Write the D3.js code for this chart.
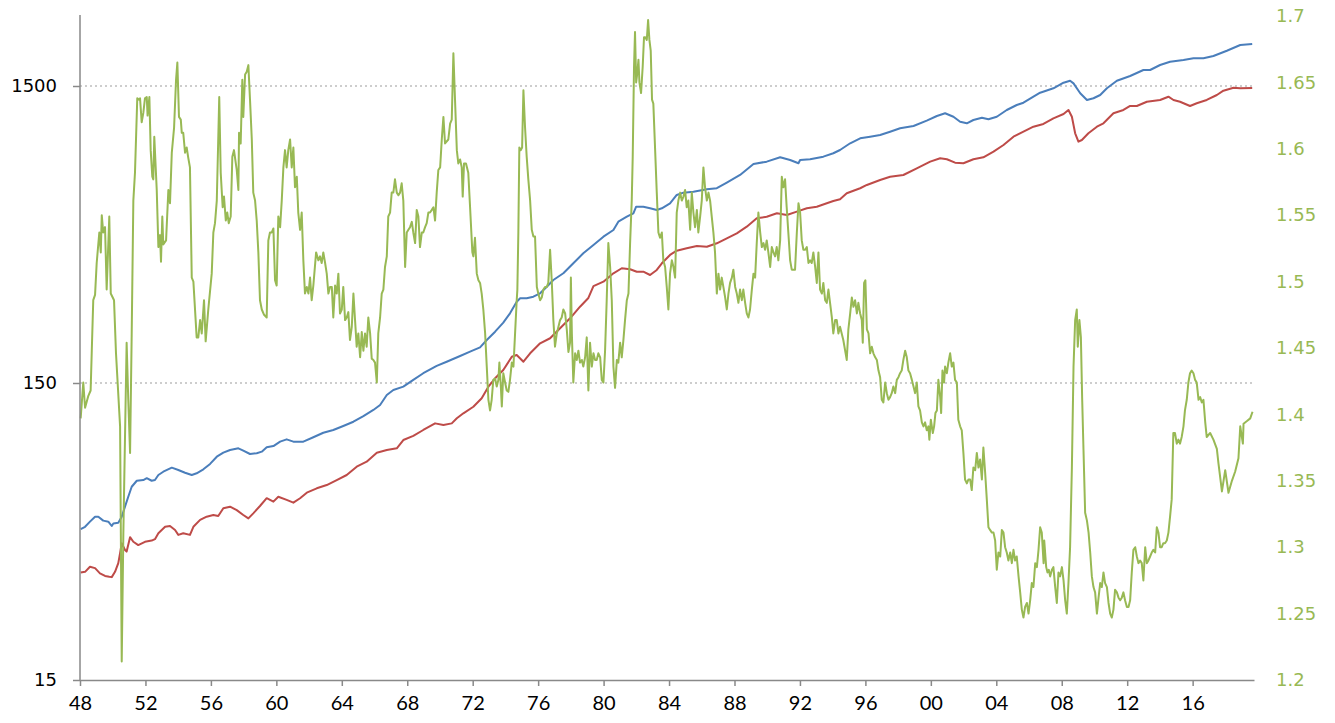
<!DOCTYPE html>
<html>
<head>
<meta charset="utf-8">
<script src="https://cdn.jsdelivr.net/npm/d3@7"></script>
<style>
  html, body { margin: 0; padding: 0; background: #ffffff; }
  svg { display: block; }
</style>
</head>
<body>
<svg id="chart" width="1335" height="723"></svg>
<script>
// ---------------- DATA ----------------
const xTickYears = [1948,1952,1956,1960,1964,1968,1972,1976,1980,1984,1988,1992,1996,2000,2004,2008,2012,2016];
const leftTicks = [15, 150, 1500];
const rightTicks = [1.2,1.25,1.3,1.35,1.4,1.45,1.5,1.55,1.6,1.65,1.7];

// blue series (left, log axis): [year, value]
const blueSeries = [
[1948.04,48.3],[1948.31,49.2],[1948.61,51.2],[1948.92,53.2],[1949.12,53.2],[1949.42,51.6],[1949.73,51.2],[1949.94,49.5],
[1950.04,50.5],[1950.34,50.8],[1950.55,53.2],[1950.75,57.5],[1950.95,62.1],[1951.16,67.1],[1951.47,70.3],[1951.87,70.7],
[1952.08,71.7],[1952.38,70.3],[1952.58,70.7],[1952.79,73.5],[1953.09,75.4],[1953.61,77.8],[1954.01,76.4],[1954.42,74.8],
[1954.83,73.5],[1955.13,74.5],[1955.54,76.8],[1955.95,80.1],[1956.36,84.7],[1956.76,87.4],[1957.17,89.2],[1957.68,90.4],
[1957.98,88.8],[1958.39,86.5],[1958.80,87.0],[1959.11,88.1],[1959.41,91.1],[1959.82,92.0],[1960.23,95.2],[1960.63,96.9],
[1961.04,95.2],[1961.65,95.2],[1962.26,98.5],[1962.87,102.0],[1963.48,104.2],[1964.09,107.5],[1964.71,111.1],[1965.32,116.1],
[1965.93,121.7],[1966.34,126.5],[1966.75,136.7],[1967.15,142.1],[1967.76,145.8],[1968.37,153.6],[1968.98,161.8],[1969.80,171.2],
[1970.41,176.9],[1971.23,184.9],[1971.84,191.2],[1972.45,197.8],[1972.86,209.4],[1973.37,223.3],[1973.87,239.4],[1974.28,257.5],
[1974.69,281.8],[1974.90,289.3],[1975.30,289.3],[1975.71,292.9],[1976.12,300.7],[1976.53,316.5],[1976.93,333.4],[1977.54,351.2],
[1978.15,379.5],[1978.76,410.1],[1979.38,437.2],[1979.99,466.4],[1980.60,491.3],[1980.90,523.9],[1981.42,544.5],[1981.82,559.2],
[1981.99,588.5],[1982.43,588.5],[1982.84,581.2],[1983.25,573.7],[1983.56,581.2],[1984.06,604.2],[1984.47,644.6],[1984.88,656.1],
[1985.49,661.3],[1986.31,673.7],[1986.92,679.0],[1987.53,709.1],[1988.34,752.7],[1989.16,819.6],[1989.97,834.3],[1990.79,863.0],
[1991.40,845.3],[1991.91,823.9],[1992.01,845.3],[1992.62,850.0],[1993.43,867.3],[1994.04,890.4],[1994.45,913.3],[1995.07,962.1],
[1995.68,1000],[1996.29,1012.5],[1996.90,1025.9],[1997.51,1052.5],[1998.12,1080.8],[1998.94,1100.2],[1999.75,1146.5],[2000.37,1189],
[2000.87,1214],[2001.38,1182],[2001.79,1137.5],[2002.20,1123.4],[2002.60,1152.5],[2003.12,1173.4],[2003.52,1158.8],[2004.03,1182],
[2004.64,1245.5],[2005.25,1294.6],[2005.66,1318],[2006.27,1380.6],[2006.68,1424],[2007.49,1474],[2008.11,1539],[2008.51,1563],
[2008.72,1531],[2009.13,1418],[2009.54,1346],[2009.94,1364],[2010.35,1399],[2010.76,1474],[2011.37,1563],[2012.18,1621],
[2012.99,1698],[2013.40,1698],[2014.01,1765],[2014.62,1811],[2015.44,1835],[2016.05,1859],[2016.66,1859],[2017.27,1893],
[2018.09,1972],[2018.91,2061],[2019.64,2078]
];

// red series (left, log axis): [year, value]
const redSeries = [
[1948.04,34.5],[1948.31,34.7],[1948.61,36.1],[1948.92,35.7],[1949.22,34.3],[1949.53,33.6],[1949.79,33.4],[1949.94,33.3],
[1950.14,34.7],[1950.34,37.1],[1950.45,40.1],[1950.55,43.3],[1950.75,41.1],[1950.85,40.6],[1951.06,45.4],[1951.26,43.8],
[1951.56,42.7],[1951.97,43.8],[1952.38,44.2],[1952.58,44.7],[1952.79,46.8],[1953.20,49.2],[1953.50,49.5],[1953.81,48.0],
[1954.01,46.2],[1954.31,46.8],[1954.72,46.2],[1954.93,49.2],[1955.34,51.9],[1955.74,53.2],[1956.15,53.9],[1956.45,53.5],
[1956.76,56.8],[1957.17,57.5],[1957.58,56.0],[1957.98,53.9],[1958.29,52.5],[1958.59,54.6],[1959.00,57.8],[1959.41,61.4],
[1959.82,59.8],[1960.12,62.1],[1960.63,60.6],[1961.04,59.3],[1961.45,61.4],[1961.86,64.1],[1962.47,66.3],[1963.08,68.0],
[1963.69,70.7],[1964.30,73.5],[1964.91,78.4],[1965.52,81.5],[1966.14,87.4],[1966.75,89.2],[1967.36,90.4],[1967.76,96.4],
[1968.37,99.5],[1968.98,104.2],[1969.70,109.7],[1970.21,108.3],[1970.72,109.7],[1971.03,114.1],[1971.43,118.6],[1972.04,124.8],
[1972.55,133.2],[1972.96,145.8],[1973.37,155.6],[1973.87,165.9],[1974.39,183.9],[1974.69,186.4],[1975.10,176.9],[1975.51,188.9],
[1976.12,204.1],[1976.73,212.2],[1977.34,229.3],[1977.95,247.7],[1978.56,271.0],[1979.07,290.0],[1979.38,318.0],[1979.99,329.1],
[1980.60,351.2],[1981.11,365.1],[1981.62,362.2],[1982.03,355.5],[1982.43,355.5],[1982.84,346.5],[1983.25,360.3],[1983.56,379.5],
[1984.06,404.8],[1984.47,418.3],[1985.08,426.2],[1985.70,433.9],[1986.31,431.5],[1986.92,443.1],[1987.53,460.6],[1988.14,478.8],
[1988.75,504.0],[1989.36,537.8],[1989.97,544.5],[1990.59,559.2],[1991.20,551.9],[1991.81,566.2],[1992.42,581.2],[1993.03,588.5],
[1993.64,604.2],[1994.04,615.0],[1994.45,623.1],[1994.86,653.1],[1995.68,679.0],[1996.09,696.5],[1996.90,723.8],[1997.51,742.4],
[1998.32,752.3],[1999.14,792.5],[1999.96,834.3],[2000.57,856.6],[2000.98,850.0],[2001.48,827.9],[2001.99,823.9],[2002.60,850.0],
[2003.21,863.0],[2003.83,901.5],[2004.44,949.2],[2005.05,1012.5],[2005.66,1052.5],[2006.27,1094.2],[2006.88,1117.4],[2007.49,1167.7],
[2008.11,1207.2],[2008.41,1245.5],[2008.62,1182],[2008.82,1039.4],[2009.02,974.1],[2009.23,987],[2009.63,1039.4],[2010.15,1094.2],
[2010.55,1123.4],[2011.16,1214],[2011.77,1245.5],[2012.18,1284.8],[2012.59,1284.8],[2013.20,1328],[2014.01,1346],[2014.52,1380.6],
[2014.83,1346],[2015.23,1328],[2015.84,1284.8],[2016.25,1312],[2016.86,1346],[2017.48,1399],[2017.88,1446.5],[2018.50,1480.5],
[2018.91,1474],[2019.64,1477]
];

// green series (right, linear axis): [year, value]
const greenSeries = [
[1948.04,1.397],[1948.20,1.424],[1948.31,1.405],[1948.51,1.414],[1948.65,1.418],[1948.72,1.448],[1948.81,1.486],[1948.92,1.490],
[1949.02,1.514],[1949.18,1.537],[1949.27,1.522],[1949.33,1.550],[1949.42,1.537],[1949.53,1.541],[1949.63,1.494],[1949.79,1.549],
[1949.88,1.491],[1950.00,1.488],[1950.08,1.486],[1950.20,1.446],[1950.45,1.391],[1950.55,1.214],[1950.65,1.311],[1950.85,1.454],
[1950.95,1.411],[1951.06,1.371],[1951.16,1.461],[1951.26,1.561],[1951.36,1.582],[1951.50,1.638],[1951.61,1.637],[1951.67,1.638],
[1951.77,1.620],[1951.87,1.627],[1951.97,1.638],[1952.08,1.639],[1952.13,1.625],[1952.24,1.639],[1952.32,1.599],[1952.42,1.579],
[1952.48,1.577],[1952.54,1.609],[1952.69,1.569],[1952.79,1.526],[1952.89,1.535],[1952.95,1.515],[1953.03,1.549],[1953.09,1.528],
[1953.26,1.531],[1953.40,1.569],[1953.50,1.559],[1953.61,1.597],[1953.75,1.616],[1953.87,1.652],[1953.95,1.665],[1954.05,1.624],
[1954.16,1.622],[1954.22,1.612],[1954.31,1.612],[1954.42,1.597],[1954.52,1.601],[1954.62,1.593],[1954.72,1.586],[1954.83,1.503],
[1954.93,1.500],[1955.13,1.458],[1955.23,1.458],[1955.34,1.471],[1955.44,1.461],[1955.58,1.486],[1955.68,1.455],[1955.84,1.479],
[1956.05,1.506],[1956.15,1.537],[1956.25,1.544],[1956.36,1.561],[1956.51,1.639],[1956.60,1.582],[1956.72,1.556],[1956.80,1.564],
[1956.91,1.546],[1957.00,1.552],[1957.09,1.544],[1957.21,1.549],[1957.31,1.594],[1957.41,1.599],[1957.58,1.584],[1957.68,1.569],
[1957.72,1.612],[1957.82,1.604],[1957.92,1.652],[1957.98,1.624],[1958.09,1.656],[1958.19,1.658],[1958.29,1.663],[1958.39,1.637],
[1958.50,1.607],[1958.59,1.567],[1958.70,1.561],[1958.80,1.546],[1958.90,1.522],[1959.00,1.486],[1959.11,1.479],[1959.25,1.475],
[1959.41,1.473],[1959.51,1.531],[1959.61,1.537],[1959.72,1.537],[1959.82,1.540],[1959.92,1.501],[1960.02,1.497],[1960.12,1.549],
[1960.23,1.541],[1960.33,1.561],[1960.43,1.586],[1960.53,1.599],[1960.63,1.586],[1960.73,1.599],[1960.84,1.607],[1960.94,1.586],
[1961.04,1.601],[1961.14,1.571],[1961.25,1.579],[1961.34,1.552],[1961.45,1.539],[1961.55,1.552],[1961.65,1.516],[1961.75,1.491],
[1961.86,1.496],[1961.96,1.491],[1962.06,1.503],[1962.16,1.486],[1962.26,1.497],[1962.43,1.522],[1962.57,1.516],[1962.67,1.519],
[1962.77,1.514],[1962.87,1.522],[1962.98,1.514],[1963.08,1.506],[1963.18,1.491],[1963.28,1.496],[1963.39,1.496],[1963.48,1.473],
[1963.59,1.497],[1963.69,1.491],[1963.79,1.506],[1963.89,1.476],[1964.00,1.479],[1964.09,1.496],[1964.20,1.471],[1964.30,1.473],
[1964.40,1.477],[1964.50,1.456],[1964.61,1.466],[1964.71,1.491],[1964.81,1.471],[1964.91,1.451],[1965.01,1.461],[1965.12,1.443],
[1965.22,1.462],[1965.32,1.448],[1965.42,1.461],[1965.52,1.451],[1965.62,1.473],[1965.73,1.461],[1965.83,1.442],[1965.93,1.441],
[1966.03,1.439],[1966.14,1.424],[1966.23,1.461],[1966.34,1.473],[1966.44,1.491],[1966.54,1.494],[1966.64,1.511],[1966.75,1.519],
[1966.84,1.549],[1966.95,1.552],[1967.05,1.567],[1967.15,1.567],[1967.25,1.577],[1967.36,1.567],[1967.46,1.565],[1967.56,1.567],
[1967.66,1.574],[1967.76,1.561],[1967.87,1.511],[1967.97,1.537],[1968.07,1.539],[1968.17,1.541],[1968.28,1.545],[1968.37,1.537],
[1968.48,1.529],[1968.58,1.554],[1968.68,1.549],[1968.78,1.526],[1968.89,1.537],[1968.98,1.537],[1969.09,1.541],[1969.19,1.544],
[1969.29,1.552],[1969.39,1.552],[1969.50,1.554],[1969.60,1.556],[1969.70,1.546],[1969.80,1.567],[1969.90,1.584],[1970.01,1.586],
[1970.11,1.607],[1970.21,1.624],[1970.31,1.604],[1970.51,1.607],[1970.62,1.619],[1970.72,1.622],[1970.82,1.672],[1970.92,1.637],
[1971.03,1.599],[1971.12,1.589],[1971.23,1.592],[1971.33,1.586],[1971.39,1.564],[1971.47,1.589],[1971.59,1.589],[1971.73,1.582],
[1971.84,1.556],[1971.98,1.522],[1972.04,1.519],[1972.14,1.533],[1972.25,1.506],[1972.35,1.501],[1972.45,1.499],[1972.55,1.491],
[1972.65,1.479],[1972.76,1.461],[1972.86,1.436],[1972.96,1.411],[1973.06,1.403],[1973.16,1.411],[1973.26,1.426],[1973.37,1.427],
[1973.47,1.421],[1973.57,1.426],[1973.63,1.439],[1973.72,1.421],[1973.78,1.406],[1973.87,1.431],[1973.98,1.424],[1974.08,1.418],
[1974.18,1.417],[1974.28,1.426],[1974.39,1.439],[1974.49,1.436],[1974.59,1.461],[1974.69,1.486],[1974.73,1.494],[1974.79,1.537],
[1974.85,1.601],[1974.94,1.599],[1975.02,1.601],[1975.10,1.644],[1975.20,1.616],[1975.30,1.594],[1975.40,1.577],[1975.51,1.561],
[1975.61,1.539],[1975.71,1.534],[1975.81,1.534],[1975.92,1.496],[1976.01,1.491],[1976.12,1.486],[1976.22,1.488],[1976.32,1.494],
[1976.42,1.496],[1976.53,1.496],[1976.62,1.499],[1976.73,1.524],[1976.83,1.501],[1976.93,1.471],[1977.03,1.451],[1977.14,1.461],
[1977.24,1.466],[1977.34,1.471],[1977.44,1.473],[1977.54,1.479],[1977.65,1.476],[1977.75,1.464],[1977.85,1.447],[1977.95,1.454],
[1978.00,1.503],[1978.06,1.461],[1978.15,1.424],[1978.26,1.446],[1978.36,1.441],[1978.46,1.448],[1978.56,1.439],[1978.67,1.441],
[1978.76,1.436],[1978.87,1.443],[1978.97,1.458],[1979.07,1.418],[1979.17,1.454],[1979.28,1.436],[1979.38,1.446],[1979.48,1.441],
[1979.58,1.441],[1979.68,1.446],[1979.79,1.443],[1979.89,1.426],[1979.99,1.424],[1980.09,1.448],[1980.19,1.486],[1980.29,1.529],
[1980.40,1.511],[1980.50,1.486],[1980.60,1.436],[1980.70,1.420],[1980.81,1.441],[1980.90,1.439],[1981.01,1.454],[1981.11,1.443],
[1981.21,1.456],[1981.31,1.471],[1981.42,1.486],[1981.52,1.491],[1981.62,1.529],[1981.72,1.561],[1981.78,1.594],[1981.86,1.662],
[1981.92,1.688],[1981.99,1.650],[1982.06,1.657],[1982.13,1.667],[1982.19,1.650],[1982.29,1.642],[1982.39,1.662],[1982.47,1.684],
[1982.55,1.684],[1982.64,1.682],[1982.72,1.697],[1982.80,1.682],[1982.88,1.674],[1982.96,1.637],[1983.04,1.634],[1983.15,1.599],
[1983.25,1.567],[1983.35,1.537],[1983.45,1.533],[1983.56,1.537],[1983.65,1.516],[1983.76,1.511],[1983.86,1.496],[1983.96,1.479],
[1984.06,1.506],[1984.17,1.516],[1984.27,1.511],[1984.37,1.503],[1984.47,1.552],[1984.57,1.561],[1984.68,1.567],[1984.78,1.561],
[1984.88,1.564],[1984.98,1.569],[1985.08,1.556],[1985.18,1.561],[1985.29,1.539],[1985.39,1.567],[1985.49,1.552],[1985.59,1.541],
[1985.70,1.554],[1985.79,1.537],[1985.90,1.549],[1986.00,1.561],[1986.10,1.586],[1986.20,1.571],[1986.31,1.561],[1986.41,1.567],
[1986.51,1.561],[1986.61,1.549],[1986.71,1.537],[1986.81,1.522],[1986.92,1.491],[1987.02,1.506],[1987.12,1.494],[1987.22,1.503],
[1987.32,1.496],[1987.43,1.488],[1987.53,1.479],[1987.63,1.491],[1987.73,1.499],[1987.84,1.503],[1987.93,1.509],[1988.04,1.496],
[1988.14,1.491],[1988.24,1.484],[1988.34,1.494],[1988.45,1.486],[1988.54,1.494],[1988.65,1.484],[1988.75,1.476],[1988.85,1.473],
[1988.95,1.479],[1989.06,1.494],[1989.16,1.506],[1989.26,1.503],[1989.36,1.529],[1989.46,1.552],[1989.57,1.537],[1989.67,1.526],
[1989.77,1.529],[1989.87,1.524],[1989.97,1.531],[1990.07,1.522],[1990.18,1.511],[1990.28,1.526],[1990.38,1.522],[1990.48,1.519],
[1990.58,1.526],[1990.68,1.516],[1990.79,1.531],[1990.89,1.579],[1990.99,1.571],[1991.09,1.577],[1991.19,1.556],[1991.29,1.537],
[1991.40,1.516],[1991.50,1.509],[1991.60,1.509],[1991.70,1.509],[1991.81,1.537],[1991.91,1.559],[1992.01,1.552],[1992.11,1.531],
[1992.21,1.524],[1992.32,1.524],[1992.42,1.526],[1992.52,1.514],[1992.62,1.516],[1992.72,1.514],[1992.82,1.522],[1992.93,1.511],
[1993.03,1.499],[1993.13,1.522],[1993.23,1.494],[1993.34,1.491],[1993.43,1.499],[1993.54,1.486],[1993.64,1.484],[1993.74,1.494],
[1993.84,1.484],[1993.95,1.473],[1994.04,1.461],[1994.15,1.471],[1994.25,1.471],[1994.35,1.461],[1994.45,1.466],[1994.65,1.456],
[1994.86,1.441],[1994.96,1.464],[1995.07,1.476],[1995.17,1.488],[1995.27,1.481],[1995.37,1.486],[1995.48,1.476],[1995.57,1.484],
[1995.68,1.476],[1995.78,1.471],[1995.84,1.454],[1995.92,1.499],[1996.00,1.501],[1996.09,1.464],[1996.19,1.461],[1996.29,1.446],
[1996.39,1.451],[1996.49,1.446],[1996.60,1.443],[1996.70,1.441],[1996.80,1.433],[1996.90,1.428],[1997.00,1.411],[1997.10,1.409],
[1997.21,1.424],[1997.31,1.416],[1997.41,1.411],[1997.51,1.413],[1997.61,1.416],[1997.71,1.421],[1997.82,1.416],[1997.92,1.426],
[1998.02,1.428],[1998.12,1.431],[1998.22,1.433],[1998.32,1.441],[1998.43,1.448],[1998.53,1.443],[1998.63,1.433],[1998.73,1.431],
[1998.84,1.426],[1998.94,1.421],[1999.04,1.416],[1999.14,1.424],[1999.24,1.406],[1999.34,1.403],[1999.45,1.394],[1999.55,1.391],
[1999.65,1.394],[1999.75,1.388],[1999.85,1.391],[1999.91,1.381],[2000.00,1.396],[2000.12,1.386],[2000.20,1.391],[2000.28,1.401],
[2000.37,1.403],[2000.46,1.426],[2000.57,1.413],[2000.63,1.401],[2000.71,1.433],[2000.81,1.424],[2000.87,1.436],[2000.98,1.431],
[2001.07,1.439],[2001.18,1.446],[2001.28,1.436],[2001.38,1.439],[2001.48,1.426],[2001.59,1.424],[2001.68,1.396],[2001.79,1.391],
[2001.89,1.388],[2001.99,1.371],[2002.09,1.351],[2002.20,1.348],[2002.30,1.351],[2002.40,1.351],[2002.50,1.343],[2002.60,1.360],
[2002.71,1.358],[2002.81,1.371],[2002.91,1.360],[2003.01,1.366],[2003.12,1.351],[2003.21,1.375],[2003.32,1.356],[2003.42,1.336],
[2003.52,1.315],[2003.62,1.313],[2003.73,1.311],[2003.83,1.311],[2003.93,1.305],[2004.03,1.283],[2004.13,1.296],[2004.24,1.293],
[2004.34,1.313],[2004.44,1.311],[2004.54,1.300],[2004.64,1.296],[2004.74,1.290],[2004.85,1.296],[2004.95,1.288],[2005.05,1.298],
[2005.15,1.290],[2005.25,1.293],[2005.36,1.278],[2005.46,1.266],[2005.56,1.253],[2005.66,1.247],[2005.76,1.255],[2005.87,1.258],
[2005.97,1.250],[2006.07,1.260],[2006.17,1.273],[2006.27,1.270],[2006.38,1.288],[2006.48,1.285],[2006.58,1.298],[2006.68,1.315],
[2006.78,1.311],[2006.89,1.288],[2006.93,1.305],[2007.05,1.285],[2007.13,1.281],[2007.21,1.283],[2007.29,1.278],[2007.40,1.283],
[2007.49,1.285],[2007.60,1.270],[2007.70,1.258],[2007.80,1.281],[2007.90,1.278],[2008.01,1.285],[2008.11,1.275],[2008.21,1.260],
[2008.31,1.250],[2008.41,1.273],[2008.51,1.300],[2008.62,1.360],[2008.72,1.436],[2008.82,1.471],[2008.92,1.479],[2008.98,1.451],
[2009.08,1.471],[2009.17,1.458],[2009.25,1.411],[2009.33,1.373],[2009.43,1.326],[2009.54,1.320],[2009.64,1.311],[2009.74,1.296],
[2009.84,1.278],[2009.94,1.270],[2010.04,1.266],[2010.15,1.250],[2010.25,1.262],[2010.35,1.273],[2010.45,1.270],[2010.55,1.281],
[2010.65,1.273],[2010.76,1.270],[2010.86,1.258],[2010.96,1.250],[2011.06,1.247],[2011.16,1.253],[2011.26,1.268],[2011.37,1.266],
[2011.47,1.262],[2011.57,1.260],[2011.67,1.262],[2011.77,1.266],[2011.87,1.260],[2011.98,1.255],[2012.08,1.255],[2012.18,1.260],
[2012.28,1.281],[2012.38,1.298],[2012.49,1.300],[2012.59,1.293],[2012.69,1.288],[2012.79,1.290],[2012.89,1.288],[2012.99,1.275],
[2013.10,1.300],[2013.20,1.288],[2013.30,1.290],[2013.40,1.293],[2013.50,1.296],[2013.60,1.298],[2013.71,1.296],[2013.81,1.315],
[2013.91,1.311],[2014.01,1.300],[2014.11,1.300],[2014.21,1.303],[2014.31,1.303],[2014.42,1.305],[2014.52,1.311],[2014.62,1.323],
[2014.72,1.336],[2014.82,1.386],[2014.92,1.386],[2015.03,1.378],[2015.13,1.381],[2015.23,1.378],[2015.33,1.383],[2015.44,1.391],
[2015.53,1.403],[2015.64,1.411],[2015.74,1.424],[2015.84,1.431],[2015.94,1.433],[2016.05,1.431],[2016.15,1.426],[2016.25,1.424],
[2016.36,1.411],[2016.46,1.413],[2016.56,1.409],[2016.66,1.411],[2016.77,1.394],[2016.86,1.383],[2017.07,1.386],[2017.27,1.381],
[2017.48,1.374],[2017.58,1.363],[2017.79,1.342],[2017.99,1.358],[2018.19,1.341],[2018.40,1.350],[2018.60,1.357],[2018.80,1.367],
[2018.91,1.391],[2019.07,1.378],[2019.11,1.393],[2019.32,1.395],[2019.52,1.397],[2019.66,1.402]
];

// ---------------- CHART ----------------
const svg = d3.select("#chart");
const plotLeft = 80, plotRight = 1254, plotTop = 16, plotBottom = 680;
const axisColor = "#898989";
const colors = { blue: "#4a7ebb", red: "#be4b48", green: "#98b954" };

const x = d3.scaleLinear().domain([1948, 2019.75]).range([plotLeft, plotRight]);
const leftMax = 15 * Math.pow(10, (plotBottom - plotTop) / 297);
const yL = d3.scaleLog().domain([15, leftMax]).range([plotBottom, plotTop]);
const yR = d3.scaleLinear().domain([1.2, 1.7]).range([plotBottom, plotTop]);

// dotted gridlines
svg.append("g").selectAll("line")
  .data(leftTicks.filter(d => d > 15))
  .join("line")
  .attr("x1", plotLeft).attr("x2", plotRight)
  .attr("y1", d => yL(d)).attr("y2", d => yL(d))
  .attr("stroke", "#bdbdbd").attr("stroke-width", 1.3)
  .attr("stroke-dasharray", "2,3");

// lines
const lineL = d3.line().x(d => x(d[0])).y(d => yL(d[1]));
const lineR = d3.line().x(d => x(d[0])).y(d => yR(d[1]));

svg.append("path").datum(blueSeries).attr("d", lineL)
  .attr("fill", "none").attr("stroke", colors.blue).attr("stroke-width", 2).attr("stroke-linejoin", "round");
svg.append("path").datum(redSeries).attr("d", lineL)
  .attr("fill", "none").attr("stroke", colors.red).attr("stroke-width", 2).attr("stroke-linejoin", "round");
svg.append("path").datum(greenSeries).attr("d", lineR)
  .attr("fill", "none").attr("stroke", colors.green).attr("stroke-width", 2).attr("stroke-linejoin", "round");

// bottom axis
const xAxis = d3.axisBottom(x)
  .tickValues(xTickYears)
  .tickFormat(d => String(d).slice(2))
  .tickSize(6).tickSizeOuter(0).tickPadding(10);
const gx = svg.append("g").attr("transform", `translate(0,${plotBottom})`).call(xAxis);
gx.select(".domain").attr("stroke", axisColor).attr("stroke-width", 1.5);
gx.selectAll(".tick line").attr("stroke", axisColor).attr("stroke-width", 1.5);
gx.selectAll(".tick text").attr("fill", "#000").style("font-family", "Lato, 'DejaVu Sans', sans-serif").style("font-size", "20px");

// left axis
const yAxisL = d3.axisLeft(yL)
  .tickValues(leftTicks)
  .tickFormat(d3.format("d"))
  .tickSize(7).tickSizeOuter(0).tickPadding(16);
const gl = svg.append("g").attr("transform", `translate(${plotLeft},0)`).call(yAxisL);
gl.select(".domain").attr("stroke", axisColor).attr("stroke-width", 1.5).attr("d", `M0,${plotTop - 1}V${plotBottom}`);
gl.selectAll(".tick line").attr("stroke", axisColor).attr("stroke-width", 1.5);
gl.selectAll(".tick text").attr("fill", "#000").style("font-family", "'DejaVu Sans', Verdana, sans-serif").style("font-size", "18px");

// right axis (labels only)
const yAxisR = d3.axisRight(yR)
  .tickValues(rightTicks)
  .tickFormat(d => String(+d.toFixed(2)))
  .tickSize(0).tickPadding(22);
const gr = svg.append("g").attr("transform", `translate(${plotRight},0)`).call(yAxisR);
gr.select(".domain").remove();
gr.selectAll(".tick text").attr("fill", colors.green).style("font-family", "'DejaVu Sans', Verdana, sans-serif").style("font-size", "18px");
</script>
</body>
</html>
